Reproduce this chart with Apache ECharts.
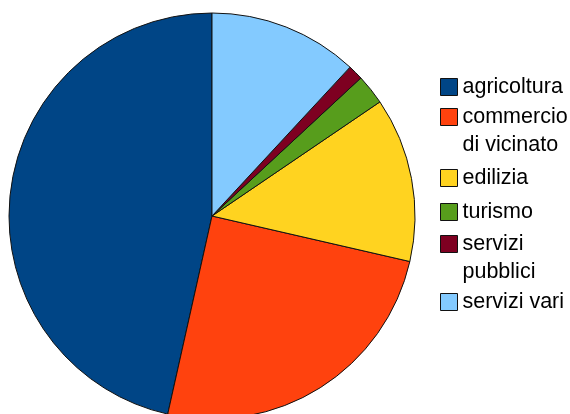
<!DOCTYPE html>
<html>
<head>
<meta charset="utf-8">
<script src="https://cdn.jsdelivr.net/npm/echarts@6/dist/echarts.min.js"></script>
<style>
html,body{margin:0;padding:0;background:#fff;}
#c{width:570px;height:414px;}
</style>
</head>
<body>
<div id="c"></div>
<script>
// Data (percent of total)
const categories = ['agricoltura', 'commercio di vicinato', 'edilizia', 'turismo', 'servizi pubblici', 'servizi vari'];
const labels = ['agricoltura', 'commercio\ndi vicinato', 'edilizia', 'turismo', 'servizi\npubblici', 'servizi vari'];
const values = [46.5, 24.9, 13.1, 2.4, 1.2, 11.9];
const colors = ['#004586', '#ff420e', '#ffd320', '#579d1c', '#7e0021', '#83caff'];
// first-line text centre for each legend entry (layout)
const legendCentres = [87, 117, 178, 212, 244, 302];
const LINE_H = 28;

const chart = echarts.init(document.getElementById('c'), null, {renderer: 'canvas'});

const legends = categories.map((name, i) => {
  const twoLine = labels[i].indexOf('\n') >= 0;
  const nLines = twoLine ? 3 : 1;
  const iconTop = legendCentres[i] - 8.5;
  return {
    orient: 'vertical',
    left: 440,
    top: iconTop - (LINE_H * nLines / 2 - 8.5),
    padding: 0,
    itemWidth: 17,
    itemHeight: 17,
    icon: 'rect',
    data: [name],
    // a leading empty line keeps the icon level with the first text line
    formatter: () => (twoLine ? '\n' + labels[i] : labels[i]),
    selectedMode: false,
    itemStyle: {borderColor: '#111', borderWidth: 1},
    textStyle: {
      fontFamily: 'Liberation Sans, Arial, sans-serif',
      fontSize: 21.5,
      lineHeight: LINE_H,
      color: '#000'
    }
  };
});

chart.setOption({
  animation: false,
  color: colors,
  legend: legends,
  series: [{
    type: 'pie',
    center: [212, 216],
    radius: 203,
    startAngle: 90,
    clockwise: false,
    label: {show: false},
    labelLine: {show: false},
    emphasis: {disabled: true},
    itemStyle: {borderColor: '#111', borderWidth: 1},
    data: categories.map((n, i) => ({name: n, value: values[i]}))
  }]
});
</script>
</body>
</html>
